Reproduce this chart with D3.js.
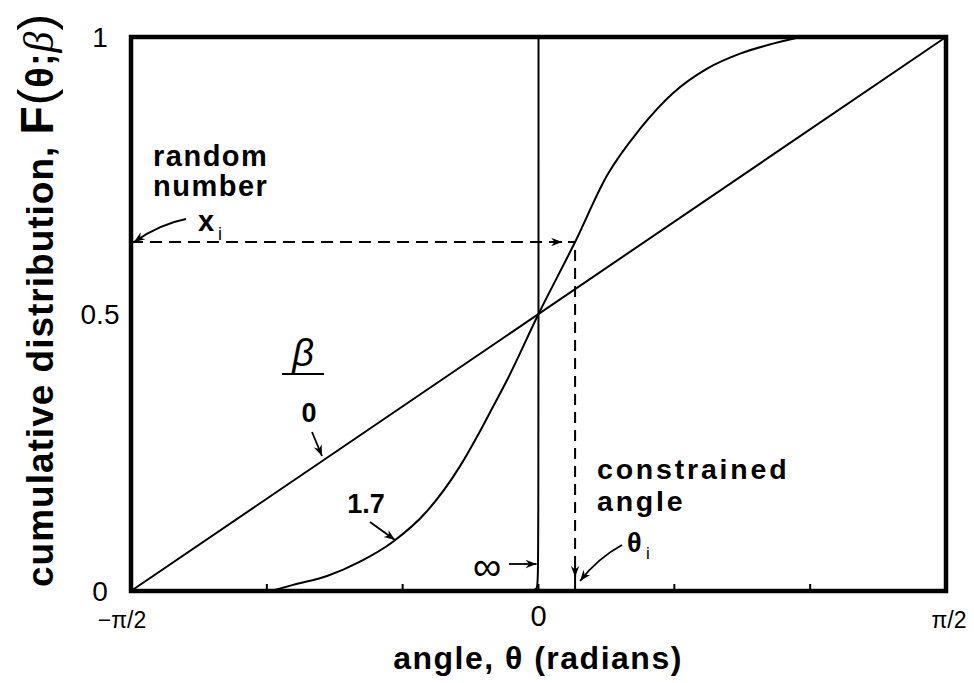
<!DOCTYPE html>
<html><head><meta charset="utf-8">
<script src="https://cdn.jsdelivr.net/npm/d3@7"></script>
<style>
html,body{margin:0;padding:0;background:#fff;}
svg{display:block;}
text{font-family:"Liberation Sans",Arial,Helvetica,sans-serif;fill:#000;}
</style></head><body>
<svg id="chart" width="974" height="683"></svg>
<script>
const PI = Math.PI;

// Axis ticks
const angleTickValues = [-PI/2, -PI/3, -PI/6, 0, PI/6, PI/3, PI/2];
const angleLabelValues = [-PI/2, 0, PI/2];
const angleLabelTexts = ["−π/2", "0", "π/2"];
const cdfTickValues = [0, 0.5, 1];
const cdfTickLabels = ["0", "0.5", "1"];

// beta = 0 : uniform distribution over the angle range
const beta0Theta = [-PI/2, PI/2];
const beta0F = [0, 1];

// beta = 1.7
const beta17Theta = [-1.03, -0.946, -0.815, -0.688, -0.561, -0.430, -0.303, -0.226, -0.175, -0.121, 0,
                     0.141, 0.264, 0.391, 0.519, 0.650, 0.777, 0.904, 1.01];
const beta17F     = [0, 0.011, 0.027, 0.053, 0.089, 0.144, 0.225, 0.288, 0.333, 0.381, 0.5,
                     0.630, 0.750, 0.834, 0.899, 0.943, 0.970, 0.988, 1];

// beta = infinity : step at zero (bottom corner slightly rounded)
const betaInfTheta = [-PI/2, -0.05, -0.03, -0.004, 0, 0, 0];
const betaInfF     = [0, 0, 0, 0.002, 0.02, 1, 1];

// sampled random number and the resulting constrained angle
const randomX = 0.63;
const constrainedTheta = 0.141;

const svg = d3.select("#chart");
const L = 131, R = 946, T = 37, B = 591;
const x = d3.scaleLinear().domain([-PI/2, PI/2]).range([L, R]);
const y = d3.scaleLinear().domain([0, 1]).range([B, T]);

// arrowhead
const defs = svg.append("defs");
defs.append("marker").attr("id", "arr")
  .attr("viewBox", "-12 -6 14 12").attr("refX", 0).attr("refY", 0)
  .attr("markerWidth", 14).attr("markerHeight", 12)
  .attr("markerUnits", "userSpaceOnUse").attr("orient", "auto")
  .append("path").attr("d", "M0,0 L-11,-4.2 L-7.5,0 L-11,4.2 Z").attr("fill", "#000");

const zip = (a, b) => a.map((v, i) => [v, b[i]]);

// curves
svg.append("path").datum(zip(beta0Theta, beta0F))
  .attr("d", d3.line().x(d => x(d[0])).y(d => y(d[1])))
  .attr("fill", "none").attr("stroke", "#000").attr("stroke-width", 2);
svg.append("path").datum(zip(beta17Theta, beta17F))
  .attr("d", d3.line().x(d => x(d[0])).y(d => y(d[1])).curve(d3.curveMonotoneX))
  .attr("fill", "none").attr("stroke", "#000").attr("stroke-width", 2);
svg.append("path").datum(zip(betaInfTheta, betaInfF))
  .attr("d", d3.line().x(d => x(d[0])).y(d => y(d[1])).curve(d3.curveBasis))
  .attr("fill", "none").attr("stroke", "#000").attr("stroke-width", 2);

// frame
svg.append("rect").attr("x", L).attr("y", T).attr("width", R - L).attr("height", B - T)
  .attr("fill", "none").attr("stroke", "#000").attr("stroke-width", 4.5);

// inner ticks along the angle axis
svg.append("g").selectAll("line").data(angleTickValues.slice(1, -1)).join("line")
  .attr("x1", d => x(d)).attr("x2", d => x(d)).attr("y1", B).attr("y2", B - 7)
  .attr("stroke", "#000").attr("stroke-width", 2);

// tick labels
svg.append("g").selectAll("text").data(angleLabelValues).join("text")
  .attr("x", d => x(d) + (d < 0 ? -9 : (d > 0 ? 3 : 0)))
  .attr("y", (d, i) => i === 1 ? 626 : 628)
  .attr("text-anchor", "middle")
  .attr("font-size", (d, i) => i === 1 ? 29 : 23)
  .text((d, i) => angleLabelTexts[i]);

svg.append("g").selectAll("text").data(cdfTickValues).join("text")
  .attr("x", 100).attr("y", d => y(d)).attr("dy", "0.36em")
  .attr("text-anchor", "middle").attr("font-size", 28)
  .text((d, i) => cdfTickLabels[i]);

// axis titles
svg.append("text").attr("x", 538).attr("y", 669).attr("text-anchor", "middle")
  .attr("font-size", 32).attr("font-weight", "bold").attr("letter-spacing", 1.5)
  .text("angle, θ (radians)");

const yt = svg.append("text").attr("transform", "translate(53,587) rotate(-90)")
  .attr("font-size", 37).attr("font-weight", "bold").attr("letter-spacing", 1);
yt.append("tspan").text("cumulative distribution, ");
yt.append("tspan").attr("font-size", 46).attr("font-weight", 900).text("F");
yt.append("tspan").attr("font-weight", "normal").attr("font-size", 50).text("(");
yt.append("tspan").attr("font-size", 38).text("θ");
yt.append("tspan").attr("font-size", 38).text(";");
yt.append("tspan").attr("font-family", "'Liberation Serif','DejaVu Serif',serif").attr("font-style", "italic")
  .attr("font-weight", "normal").attr("font-size", 42).text("β");
yt.append("tspan").attr("font-weight", "normal").attr("font-size", 50).text(")");

// random number -> constrained angle
const dash = svg.append("g").attr("stroke", "#000").attr("stroke-width", 2).attr("fill", "none");
dash.append("line").attr("x1", x(-PI/2)).attr("x2", x(constrainedTheta))
  .attr("y1", y(randomX)).attr("y2", y(randomX)).attr("stroke-dasharray", "12,7");
dash.append("line").attr("x1", x(constrainedTheta) - 20).attr("x2", x(constrainedTheta) - 13)
  .attr("y1", y(randomX)).attr("y2", y(randomX)).attr("marker-end", "url(#arr)");
dash.append("line").attr("x1", x(constrainedTheta)).attr("x2", x(constrainedTheta))
  .attr("y1", y(randomX) + 8).attr("y2", B - 16).attr("stroke-dasharray", "11,7");
dash.append("line").attr("x1", x(constrainedTheta)).attr("x2", x(constrainedTheta))
  .attr("y1", B - 24).attr("y2", B - 14).attr("marker-end", "url(#arr)");
dash.append("line").attr("x1", x(constrainedTheta)).attr("x2", x(constrainedTheta))
  .attr("y1", B - 16).attr("y2", B);

// pointer arrows
const arrows = svg.append("g").attr("stroke", "#000").attr("stroke-width", 1.8).attr("fill", "none");
arrows.append("path").attr("d", `M186,219 Q160,224 ${L + 3},${y(randomX)}`).attr("marker-end", "url(#arr)");
arrows.append("path").attr("d", "M312,432 L322,456").attr("marker-end", "url(#arr)");
arrows.append("path").attr("d", "M370,522 L395,540").attr("marker-end", "url(#arr)");
arrows.append("path").attr("d", `M509,564 L${x(0) - 2},564`).attr("marker-end", "url(#arr)");
arrows.append("path").attr("d", `M622,545 Q598,558 ${x(constrainedTheta) + 5},581`).attr("marker-end", "url(#arr)");

// annotation text
const ann = svg.append("g").attr("font-weight", "bold");
ann.append("text").attr("x", 153).attr("y", 166).attr("font-size", 29).attr("letter-spacing", 1.5).text("random");
ann.append("text").attr("x", 153).attr("y", 196).attr("font-size", 29).attr("letter-spacing", 1.5).text("number");
ann.append("text").attr("x", 198).attr("y", 231).attr("font-size", 29).text("x");
ann.append("text").attr("x", 218).attr("y", 240).attr("font-size", 18).attr("font-weight", "normal").text("i");

ann.append("text").attr("x", 303).attr("y", 366).attr("text-anchor", "middle")
  .attr("font-family", "'Liberation Serif','DejaVu Serif',serif").attr("font-style", "italic")
  .attr("font-weight", "normal").attr("font-size", 38).text("β");
svg.append("line").attr("x1", 282).attr("x2", 324).attr("y1", 374).attr("y2", 374)
  .attr("stroke", "#000").attr("stroke-width", 2);
ann.append("text").attr("x", 309).attr("y", 422).attr("text-anchor", "middle").attr("font-size", 27).text("0");
ann.append("text").attr("x", 366).attr("y", 513).attr("text-anchor", "middle").attr("font-size", 27).text("1.7");
ann.append("text").attr("x", 487).attr("y", 580).attr("text-anchor", "middle")
  .attr("font-family", "'DejaVu Sans',sans-serif").attr("font-size", 40).attr("font-weight", "normal").text("∞");

ann.append("text").attr("x", 597).attr("y", 479).attr("font-size", 28.5).attr("letter-spacing", 2.8).text("constrained");
ann.append("text").attr("x", 597).attr("y", 511).attr("font-size", 28.5).attr("letter-spacing", 2.8).text("angle");
ann.append("text").attr("x", 627).attr("y", 552).attr("font-size", 27).text("θ");
ann.append("text").attr("x", 646).attr("y", 559).attr("font-size", 17).attr("font-weight", "normal").text("i");
</script>
</body></html>
